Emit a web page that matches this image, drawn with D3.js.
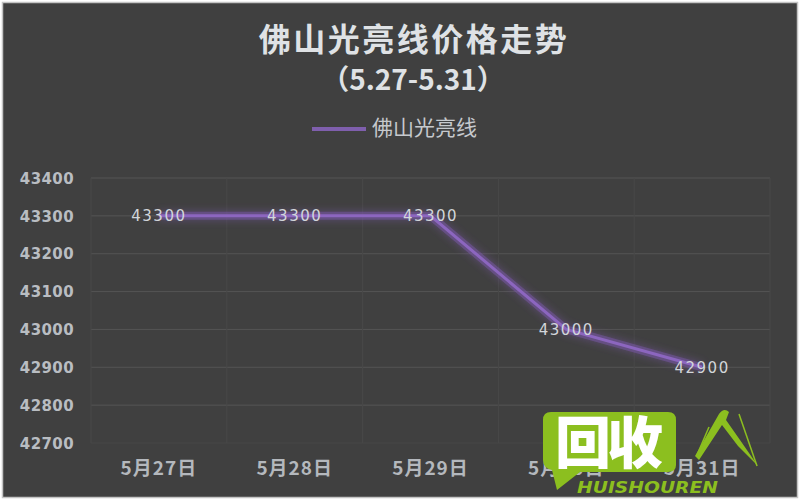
<!DOCTYPE html>
<html><head><meta charset="utf-8">
<script src="https://cdn.jsdelivr.net/npm/d3@7/dist/d3.min.js"></script>
<style>html,body{margin:0;padding:0;background:#fff;}svg{display:block;}</style>
</head><body>
<script>
const categories = ["5月27日","5月28日","5月29日","5月30日","5月31日"];
const values = [43300, 43300, 43300, 43000, 42900];
const yTicks = [42700, 42800, 42900, 43000, 43100, 43200, 43300, 43400];
const seriesName = "佛山光亮线";
const title = "佛山光亮线价格走势";
const subtitle = "（5.27-5.31）";

(function(){
const W = 800, H = 500;
const svg = d3.select("body").append("svg").attr("width", W).attr("height", H);
const defs = svg.append("defs");
const glow = defs.append("filter").attr("id","glow").attr("x","-20%").attr("y","-50%").attr("width","140%").attr("height","200%");
glow.append("feGaussianBlur").attr("stdDeviation", 4).attr("result","b");
const fm = glow.append("feMerge");
fm.append("feMergeNode").attr("in","b");
fm.append("feMergeNode").attr("in","SourceGraphic");

svg.append("rect").attr("x",2.5).attr("y",2.5).attr("width",W-5).attr("height",H-5)
  .attr("fill","#404040").attr("stroke","#c4c4c4").attr("stroke-width",1.5);

const pl = 91, pr = 770, pt = 178, pb = 443;
const x = d3.scaleBand().domain(categories).range([pl, pr]);
const y = d3.scaleLinear().domain([42700, 43400]).range([pb, pt]);

// grid
const g = svg.append("g");
g.selectAll("line.h").data(yTicks).join("line")
  .attr("x1", pl).attr("x2", pr)
  .attr("y1", d => y(d)).attr("y2", d => y(d))
  .attr("stroke", d => d === 42700 ? "#474747" : "#545454").attr("stroke-width", 1);
const vb = categories.map(c => x(c)).concat([pr]);
g.selectAll("line.v").data(vb).join("line")
  .attr("x1", d => d).attr("x2", d => d)
  .attr("y1", pt).attr("y2", pb)
  .attr("stroke", "#484848").attr("stroke-width", 1);

// y axis
const yAxis = d3.axisLeft(y).tickValues(yTicks).tickSize(0).tickPadding(0).tickFormat(d3.format("d"));
const ya = svg.append("g").attr("transform", `translate(74,0)`).call(yAxis);
ya.select(".domain").remove();
ya.selectAll("text").attr("fill","#b9bdc2").attr("font-family","DejaVu Sans")
  .attr("font-weight","bold").attr("font-size",15).attr("letter-spacing","0.4px").attr("dy","0.35em");

// x axis
const xAxis = d3.axisBottom(x).tickSize(0).tickPadding(0);
const xa = svg.append("g").attr("transform", `translate(0,468)`).call(xAxis);
xa.select(".domain").remove();
xa.selectAll("text").attr("fill","#b4b8bd").attr("font-family","'Noto Sans CJK SC'")
  .attr("font-weight","bold").attr("font-size",19).attr("letter-spacing","1px").attr("dy","0.35em");

// line
const pts = categories.map((c,i) => [x(c) + x.bandwidth()/2, y(values[i])]);
const line = d3.line();
svg.append("path").attr("d", line(pts)).attr("fill","none")
  .attr("stroke","#7a58a8").attr("stroke-opacity",0.5).attr("stroke-width",8).attr("filter","url(#glow)");
svg.append("path").attr("d", line(pts)).attr("fill","none")
  .attr("stroke","#8c66bf").attr("stroke-width",3).attr("stroke-linejoin","round");

// data labels
svg.append("g").selectAll("text").data(pts).join("text")
  .attr("x", d => d[0]).attr("y", d => d[1]).attr("dy","0.35em")
  .attr("text-anchor","middle").attr("fill","#d2d6da")
  .attr("font-family","DejaVu Sans").attr("font-size",15).attr("letter-spacing","1.5px")
  .text((d,i) => values[i]);

// title
svg.append("text").attr("x", 414).attr("y", 40).attr("dy","0.35em").attr("text-anchor","middle")
  .attr("fill","#dfe2e5").attr("font-family","'Noto Sans CJK SC'").attr("font-weight","bold")
  .attr("font-size",32).attr("letter-spacing","2.5px").text(title);
svg.append("text").attr("x", 413).attr("y", 80).attr("dy","0.35em").attr("text-anchor","middle")
  .attr("fill","#dfe2e5").attr("font-family","'Noto Sans CJK SC'").attr("font-weight","bold")
  .attr("font-size",28).text(subtitle);

// legend
svg.append("line").attr("x1",312).attr("x2",366).attr("y1",129).attr("y2",129)
  .attr("stroke","#7f5fad").attr("stroke-width",4);
svg.append("text").attr("x",372).attr("y",128).attr("dy","0.35em")
  .attr("fill","#c6c9cd").attr("font-family","'Noto Sans CJK SC'").attr("font-size",21).text(seriesName);

// watermark
const wm = svg.append("g");
const green = "#8cbf1f";
wm.append("path").attr("fill", green)
  .attr("d","M551,412 H668 Q676,412 676,420 V465 Q676,472 668,472 H580 L557,490 L552,470 Q543,468 543,460 V420 Q543,412 551,412 Z");
wm.append("text").attr("x",555).attr("y",443).attr("dy","0.35em").attr("fill","#fff")
  .attr("font-family","'Noto Sans CJK SC'").attr("font-weight","900").attr("font-size",56)
  .attr("textLength",108).text("回收");
wm.append("path").attr("fill", green)
  .attr("d","M695,456 L719,414 Q724,407 729,412 L726,420 L740,440 L758,466 L738,446 L722,425 L699,460 Z");
wm.append("path").attr("fill","none").attr("stroke",green).attr("stroke-width",1.5)
  .attr("d","M739,414 L757,466");
wm.append("path").attr("fill","none").attr("stroke",green).attr("stroke-width",1.5)
  .attr("d","M709,427 L697,455");
wm.append("text").attr("x",577).attr("y",487).attr("dy","0.35em").attr("fill", green)
  .attr("font-family","'DejaVu Sans'").attr("font-weight","bold").attr("font-style","italic")
  .attr("font-size",16).attr("textLength",141).attr("lengthAdjust","spacingAndGlyphs").text("HUISHOUREN");
})();
</script>
</body></html>
